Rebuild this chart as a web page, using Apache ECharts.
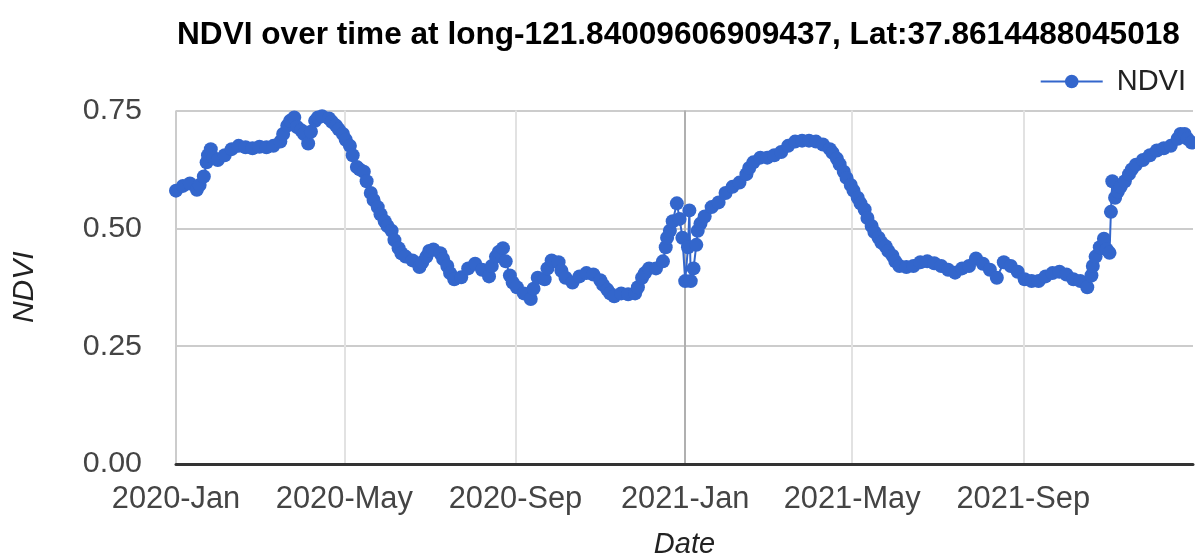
<!DOCTYPE html>
<html>
<head>
<meta charset="utf-8">
<script src="https://cdn.jsdelivr.net/npm/echarts@6.0.0/dist/echarts.min.js"></script>
<style>
html,body{margin:0;padding:0;background:#fff;}
#chart{width:1195px;height:556px;}
</style>
</head>
<body>
<div id="chart"></div>
<script>
const chartTitle = 'NDVI over time at long-121.84009606909437, Lat:37.8614488045018';
const seriesName = 'NDVI';
const dates = [
'2020-01-01','2020-01-06','2020-01-11','2020-01-16','2020-01-18','2020-01-21','2020-01-23','2020-01-24','2020-01-26','2020-01-28','2020-01-31',
'2020-02-05','2020-02-10','2020-02-15','2020-02-20','2020-02-25',
'2020-03-01','2020-03-06','2020-03-11','2020-03-16','2020-03-18','2020-03-21','2020-03-23','2020-03-26','2020-03-28','2020-03-31',
'2020-04-02','2020-04-05','2020-04-07','2020-04-10','2020-04-12','2020-04-15','2020-04-20','2020-04-22','2020-04-25','2020-04-27','2020-04-30',
'2020-05-02','2020-05-05','2020-05-07','2020-05-10','2020-05-12','2020-05-15','2020-05-17','2020-05-20','2020-05-22','2020-05-25','2020-05-27','2020-05-30',
'2020-06-01','2020-06-04','2020-06-06','2020-06-09','2020-06-11','2020-06-14','2020-06-19','2020-06-24','2020-06-26','2020-06-29',
'2020-07-01','2020-07-04','2020-07-09','2020-07-11','2020-07-14','2020-07-16','2020-07-19','2020-07-24','2020-07-29',
'2020-08-03','2020-08-08','2020-08-13','2020-08-15','2020-08-18','2020-08-20','2020-08-23','2020-08-25','2020-08-28','2020-08-30',
'2020-09-02','2020-09-07','2020-09-12','2020-09-14','2020-09-17','2020-09-22','2020-09-24','2020-09-27',
'2020-10-02','2020-10-04','2020-10-07','2020-10-12','2020-10-17','2020-10-22','2020-10-27',
'2020-11-01','2020-11-03','2020-11-06','2020-11-08','2020-11-11','2020-11-16','2020-11-21','2020-11-26','2020-11-28',
'2020-12-01','2020-12-03','2020-12-06','2020-12-11','2020-12-16','2020-12-18','2020-12-19','2020-12-21','2020-12-23','2020-12-26','2020-12-28','2020-12-30',
'2021-01-01','2021-01-03','2021-01-04','2021-01-05','2021-01-07','2021-01-09','2021-01-10','2021-01-12','2021-01-15','2021-01-20','2021-01-25','2021-01-30',
'2021-02-04','2021-02-09','2021-02-14','2021-02-16','2021-02-19','2021-02-24',
'2021-03-01','2021-03-06','2021-03-11','2021-03-16','2021-03-21','2021-03-26','2021-03-31',
'2021-04-05','2021-04-10','2021-04-15','2021-04-17','2021-04-20','2021-04-22','2021-04-25','2021-04-27','2021-04-30',
'2021-05-02','2021-05-05','2021-05-07','2021-05-10','2021-05-12','2021-05-15','2021-05-17','2021-05-20','2021-05-22','2021-05-25','2021-05-27','2021-05-30',
'2021-06-01','2021-06-04','2021-06-09','2021-06-14','2021-06-19','2021-06-24','2021-06-29',
'2021-07-04','2021-07-09','2021-07-14','2021-07-19','2021-07-24','2021-07-29',
'2021-08-03','2021-08-08','2021-08-13','2021-08-18','2021-08-23','2021-08-28',
'2021-09-02','2021-09-07','2021-09-12','2021-09-17','2021-09-22','2021-09-27',
'2021-10-02','2021-10-07','2021-10-12','2021-10-17','2021-10-20','2021-10-21','2021-10-23','2021-10-26','2021-10-29','2021-10-31',
'2021-11-02','2021-11-03','2021-11-04','2021-11-06','2021-11-08','2021-11-10','2021-11-13','2021-11-16','2021-11-18','2021-11-21','2021-11-26',
'2021-12-01','2021-12-06','2021-12-11','2021-12-16','2021-12-21','2021-12-23','2021-12-26','2021-12-28','2021-12-31'
];
const ndvi = [
0.580,0.590,0.595,0.582,0.592,0.610,0.640,0.655,0.668,0.650,0.645,
0.655,0.668,0.675,0.672,0.670,
0.673,0.672,0.675,0.684,0.700,0.718,0.728,0.735,0.715,0.708,
0.700,0.680,0.705,0.728,0.735,0.738,0.733,0.726,0.718,0.710,0.700,
0.688,0.675,0.655,0.630,0.625,0.620,0.600,0.575,0.560,0.545,0.530,0.515,
0.505,0.495,0.475,0.458,0.447,0.440,0.432,0.418,0.428,0.440,
0.452,0.455,0.447,0.435,0.420,0.405,0.392,0.396,0.415,
0.425,0.412,0.398,0.420,0.440,0.450,0.458,0.430,0.400,0.385,
0.375,0.362,0.350,0.372,0.395,0.392,0.415,0.432,
0.428,0.410,0.395,0.385,0.398,0.405,0.402,
0.390,0.380,0.370,0.362,0.356,0.362,0.360,0.362,0.375,
0.395,0.405,0.415,0.415,0.430,0.460,0.480,0.495,0.515,0.553,0.520,0.480,
0.388,0.460,0.538,0.388,0.415,0.465,0.495,0.510,0.525,0.545,0.555,0.575,
0.588,0.597,0.615,0.628,0.640,0.650,
0.650,0.655,0.662,0.675,0.684,0.686,0.686,
0.684,0.678,0.668,0.660,0.648,0.636,0.620,0.607,0.592,
0.580,0.565,0.553,0.540,0.522,0.505,0.492,0.480,0.470,0.462,0.452,0.442,
0.430,0.420,0.418,0.420,0.428,0.430,0.426,
0.420,0.412,0.406,0.415,0.420,0.436,
0.425,0.412,0.395,0.428,0.420,0.408,
0.392,0.388,0.388,0.398,0.405,0.408,
0.402,0.392,0.388,0.375,0.400,0.420,0.440,0.460,0.478,0.455,
0.448,0.535,0.600,0.565,0.578,0.588,0.600,0.615,0.625,0.635,0.645,
0.655,0.665,0.670,0.675,0.690,0.700,0.700,0.690,0.682
];
const xTickDates = ['2020-01-01','2020-05-01','2020-09-01','2021-01-01','2021-05-01','2021-09-01'];
const xTickLabels = ['2020-Jan','2020-May','2020-Sep','2021-Jan','2021-May','2021-Sep'];
const xRange = ['2020-01-01','2022-01-01'];
const yTicks = [0, 0.25, 0.5, 0.75];

const FONT = '"Liberation Sans", Arial, sans-serif';
const ts = s => Date.UTC(+s.slice(0,4), +s.slice(5,7) - 1, +s.slice(8,10));
const tickTs = xTickDates.map(ts);
const labelMap = {};
tickTs.forEach((t, i) => { labelMap[t] = xTickLabels[i]; });

const chart = echarts.init(document.getElementById('chart'), null, {renderer: 'canvas'});
chart.setOption({
  animation: false,
  backgroundColor: '#fff',
  title: {
    text: chartTitle, left: 172, top: 14,
    textStyle: {fontFamily: FONT, fontSize: 31.6, fontWeight: 'bold', color: '#000'}
  },
  legend: {
    right: 4, top: 62, itemWidth: 62, itemHeight: 17, itemGap: 12,
    data: [seriesName],
    textStyle: {fontFamily: FONT, fontSize: 29, color: '#222', padding: [0, 0, 0, 9]}
  },
  grid: {left: 176, right: 2, top: 110.5, bottom: 92, containLabel: false, outerBoundsMode: 'none'},
  xAxis: {
    type: 'value', min: ts(xRange[0]), max: ts(xRange[1]),
    name: 'Date', nameLocation: 'middle', nameGap: 66,
    nameTextStyle: {fontFamily: FONT, fontSize: 29, fontStyle: 'italic', color: '#222'},
    axisLine: {show: true, onZero: false, lineStyle: {color: '#333', width: 3}},
    axisTick: {show: false, customValues: tickTs},
    axisLabel: {
      customValues: tickTs, margin: 20,
      fontFamily: FONT, fontSize: 30.8, color: '#444',
      formatter: v => labelMap[v] || ''
    },
    splitLine: {show: true, lineStyle: {color: ['#cccccc','#e2e2e2','#e2e2e2','#b0b0b0','#e2e2e2','#e2e2e2'], width: 2}}
  },
  yAxis: {
    type: 'value', min: yTicks[0], max: yTicks[yTicks.length - 1], interval: 0.25,
    name: 'NDVI', nameLocation: 'middle', nameGap: 136, nameRotate: 90,
    nameTextStyle: {fontFamily: FONT, fontSize: 30, fontStyle: 'italic', color: '#222'},
    axisLine: {show: false}, axisTick: {show: false},
    axisLabel: {margin: 34, fontFamily: FONT, fontSize: 30.4, color: '#444', formatter: v => v.toFixed(2)},
    splitLine: {show: true, lineStyle: {color: '#cccccc', width: 2}}
  },
  series: [{
    name: seriesName, type: 'line',
    data: dates.map((d, i) => [ts(d), ndvi[i]]),
    symbol: 'circle', symbolSize: 14, showSymbol: true,
    color: '#3366cc',
    lineStyle: {color: '#3366cc', width: 2},
    itemStyle: {color: '#3366cc'},
    clip: false, z: 3
  }]
});
</script>
</body>
</html>
